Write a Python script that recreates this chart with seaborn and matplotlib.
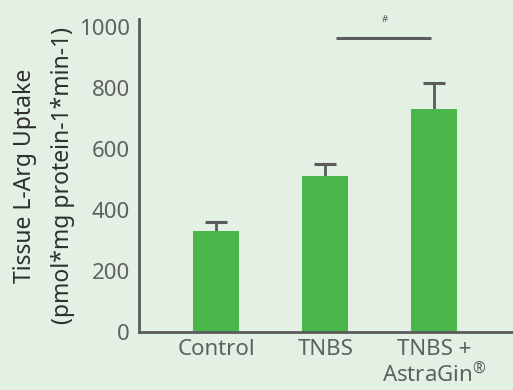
import matplotlib
matplotlib.use("Agg")
import matplotlib.pyplot as plt
import seaborn as sns
import pandas as pd

groups = ["Control", "TNBS", "TNBS +\nAstraGin$^{\\circledR}$"]
uptake = [331, 511, 731]
sem = [30, 40, 85]
sig_level = 965
sig_label = "#"
y_ticks = [0, 200, 400, 600, 800, 1000]

bg = "#e2f1e3"
bar_color = "#49b649"
ink = "#5b5b5b"

sns.set_theme(style="white")
plt.rcParams["font.family"] = ["Noto Sans", "DejaVu Sans"]
plt.rcParams["mathtext.fontset"] = "custom"
plt.rcParams["mathtext.rm"] = "Noto Sans"

df = pd.DataFrame({"group": groups, "uptake": uptake})

fig = plt.figure(figsize=(5.13, 3.90), dpi=100, facecolor=bg)
ax = fig.add_axes([139 / 513, 1 - 332 / 390, (513 - 139) / 513, (332 - 19) / 390])
ax.set_facecolor(bg)

sns.barplot(data=df, x="group", y="uptake", color=bar_color, width=0.42,
            saturation=1, errorbar=None, linewidth=0, ax=ax, zorder=2)

# upper-only SEM whiskers with caps
pos = list(range(len(groups)))
tops = [u + s for u, s in zip(uptake, sem)]
ax.vlines(pos, uptake, tops, color=ink, lw=2, zorder=1)
ax.hlines(tops, [p - 0.1 for p in pos], [p + 0.1 for p in pos], color=ink, lw=2.2, zorder=1)

# significance bracket between TNBS and TNBS + AstraGin
ax.plot([1.1, 1.97], [sig_level, sig_level], color=ink, lw=2.2, solid_capstyle="butt")
ax.text(1.55, sig_level + 58, sig_label, ha="center", va="center", fontsize=7, color=ink)

ax.set_xlim(-0.706, 2.72)
ax.set_ylim(0, 1026)
ax.set_yticks(y_ticks)
ax.set_yticklabels([str(t) for t in y_ticks])
ax.tick_params(axis="both", length=0, labelsize=16, colors="#606060")
ax.tick_params(axis="y", pad=6.5)
ax.tick_params(axis="x", pad=5)
for lab in ax.get_xticklabels():
    lab.set_linespacing(1.15)

ax.set_xlabel("")
ax.set_ylabel("Tissue L-Arg Uptake\n(pmol*mg protein-1*min-1)", fontsize=16.5,
              color="#2f2f2f", linespacing=1.75, labelpad=3)

for side in ("top", "right"):
    ax.spines[side].set_visible(False)
for side in ("left", "bottom"):
    ax.spines[side].set_color(ink)
    ax.spines[side].set_linewidth(2)

fig.savefig("out.png", dpi=100, facecolor=bg)
